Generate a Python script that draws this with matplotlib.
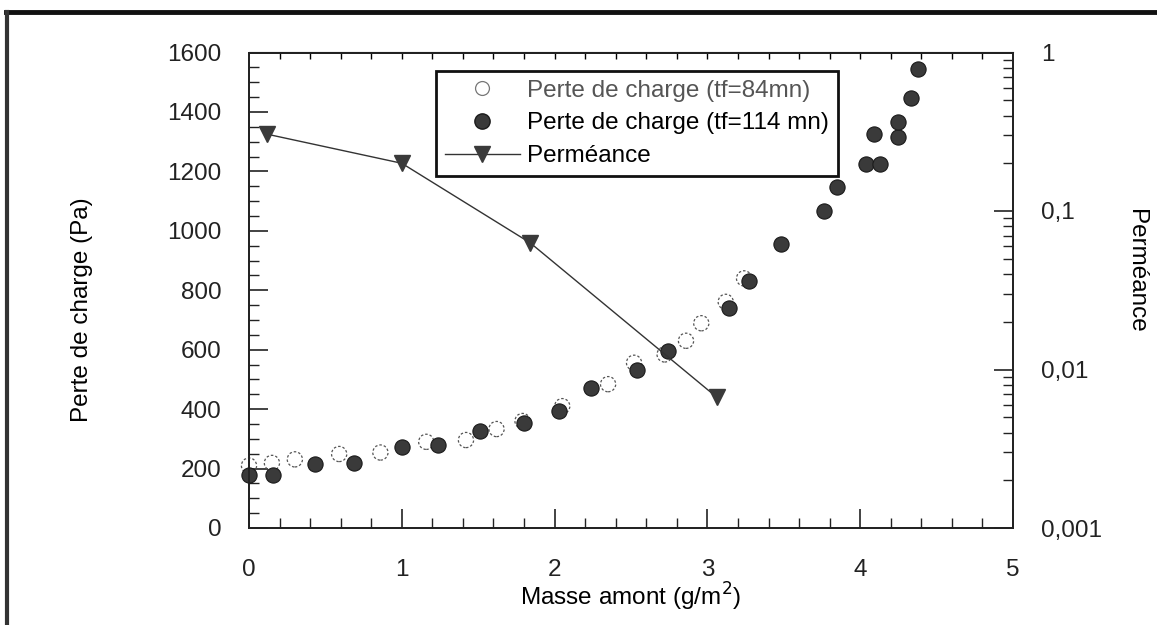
import numpy as np
import matplotlib
matplotlib.use("Agg")
import matplotlib.pyplot as plt
from matplotlib.lines import Line2D

plt.rcParams['font.family'] = ['Liberation Sans', 'DejaVu Sans']

# Perte de charge, tf = 84 mn (open circles)
masse_84 = [0.0, 0.15, 0.30, 0.59, 0.86, 1.16, 1.42, 1.62, 1.79, 2.05, 2.35,
            2.52, 2.72, 2.86, 2.96, 3.12, 3.24]
perte_84 = [210, 219, 231, 249, 254, 290, 296, 333, 360, 410, 484,
            556, 584, 630, 689, 761, 840]

# Perte de charge, tf = 114 mn (filled circles)
masse_114 = [0.0, 0.16, 0.43, 0.69, 1.0, 1.24, 1.51, 1.80, 2.03, 2.24, 2.54,
             2.74, 3.14, 3.27, 3.48, 3.76, 3.85, 4.04, 4.13, 4.09, 4.25,
             4.25, 4.33, 4.38]
perte_114 = [178, 178, 215, 220, 272, 279, 326, 354, 393, 472, 533,
             596, 741, 830, 954, 1067, 1146, 1226, 1226, 1325, 1315,
             1367, 1446, 1545]

# Permeance (right log axis)
masse_perm = [0.12, 1.0, 1.84, 3.06]
permeance = [0.305, 0.20, 0.063, 0.0067]

perm_ticks = [0.001, 0.01, 0.1, 1]
perm_labels = ['0,001', '0,01', '0,1', '1']

fig = plt.figure(figsize=(11.57, 6.25), dpi=100)
ax = fig.add_axes([249 / 1157, 1 - 528 / 625, (1013 - 249) / 1157, (528 - 52.5) / 625])
ax2 = ax.twinx()

fs = 17.5
dark = '#3a3a3a'

ax.scatter(masse_84, perte_84, s=120, facecolors='none', edgecolors='#555555',
           linewidths=0.9, linestyles=(0, (2.0, 1.6)), zorder=3, clip_on=False)
ax.scatter(masse_114, perte_114, s=120, facecolors=dark, edgecolors='#1a1a1a',
           linewidths=0.8, zorder=4, clip_on=False)
ax2.plot(masse_perm, permeance, color='#333333', lw=1.0, marker='v',
         markersize=11, markerfacecolor=dark, markeredgecolor=dark, zorder=5)

ax.set_xlim(0, 5)
ax.set_ylim(0, 1600)
ax.set_xticks(np.arange(0, 6, 1))
ax.set_xticks(np.arange(0, 5.01, 0.2), minor=True)
ax.set_yticks(np.arange(0, 1601, 200))
ax.set_yticks(np.arange(0, 1601, 50), minor=True)
ax.tick_params(which='both', direction='in', top=False, right=False, colors='#222222')
ax.tick_params(which='major', length=14, width=1.2, labelsize=fs, pad=20)
ax.tick_params(which='minor', length=7, width=1.0)
ax.tick_params(axis='x', which='major', pad=22)

top = ax.secondary_xaxis('top')
top.set_xticks(np.arange(0.2, 5.0, 0.2))
top.set_xticklabels([])
top.tick_params(direction='in', length=5, width=1.0)
top.xaxis.set_minor_locator(matplotlib.ticker.NullLocator())

ax2.set_yscale('log')
ax2.set_ylim(0.001, 1)
ax2.set_yticks(perm_ticks)
ax2.set_yticklabels(perm_labels)
ax2.tick_params(which='both', direction='in', colors='#222222')
ax2.tick_params(which='major', length=14, width=1.2, labelsize=fs, pad=20)
ax2.tick_params(which='minor', length=7, width=1.0)
ax2.yaxis.set_minor_formatter(matplotlib.ticker.NullFormatter())

for a in (ax, ax2):
    for sp in a.spines.values():
        sp.set_linewidth(1.3)
        sp.set_color('#222222')

ax.set_xlabel('Masse amont (g/m$^2$)', fontsize=fs, labelpad=0)
ax.set_ylabel('Perte de charge (Pa)', fontsize=fs)
ax.yaxis.set_label_coords(-0.204, 0.46)
ax2.set_ylabel('Perméance', fontsize=fs, rotation=-90)
ax2.yaxis.set_label_coords(1.175, 0.54)

handles = [
    Line2D([], [], ls='none', marker='o', markersize=10, markerfacecolor='none',
           markeredgecolor='#777777', markeredgewidth=0.9),
    Line2D([], [], ls='none', marker='o', markersize=11, markerfacecolor=dark,
           markeredgecolor='#1a1a1a'),
    Line2D([], [], color='#333333', lw=1.0, marker='v', markersize=11,
           markerfacecolor=dark, markeredgecolor=dark),
]
labels = ['Perte de charge (tf=84mn)', 'Perte de charge (tf=114 mn)', 'Perméance']
leg = ax.legend(handles, labels, loc='upper left', bbox_to_anchor=(436 / 1157, 1 - 71 / 625),
                bbox_transform=fig.transFigure, fontsize=fs, frameon=True,
                fancybox=False, framealpha=1, edgecolor='#111111',
                handlelength=3.1, handletextpad=0.3, labelspacing=0.45,
                borderpad=0.35, borderaxespad=0)
leg.get_frame().set_linewidth(2.0)
leg.get_texts()[0].set_color('#555555')
leg.set_zorder(10)

# outer frame of the scanned page
fig.add_artist(Line2D([6 / 1157, 1.0], [1 - 12 / 625, 1 - 12 / 625],
                      transform=fig.transFigure, color='#111111', lw=3.5))
fig.add_artist(Line2D([7 / 1157, 7 / 1157], [0.0, 1 - 12 / 625],
                      transform=fig.transFigure, color='#333333', lw=3))

fig.savefig('out.png', dpi=100)
